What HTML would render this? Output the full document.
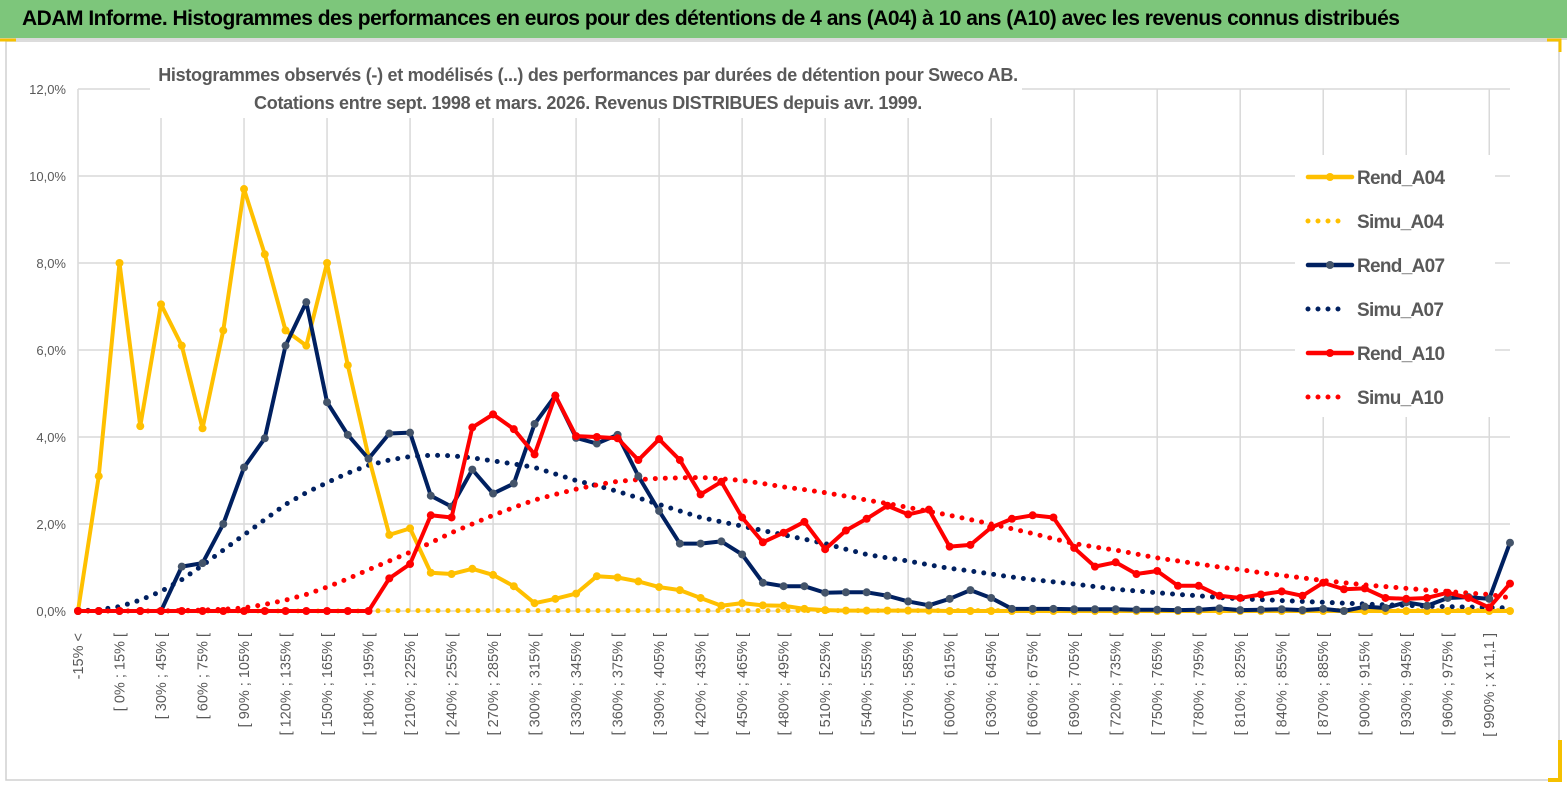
<!DOCTYPE html>
<html><head><meta charset="utf-8"><style>
html,body{margin:0;padding:0;background:#fff;}
body{width:1567px;height:789px;overflow:hidden;position:relative;font-family:"Liberation Sans",sans-serif;}
#titlebar{position:absolute;left:0;top:0;width:1567px;height:38px;background:#7dc67b;border-bottom:2px solid #d9d9d9;}
#titlebar span{position:absolute;left:22px;top:7px;font-size:21px;font-weight:bold;color:#000;white-space:nowrap;letter-spacing:-0.5px;}
svg{position:absolute;left:0;top:0;}
</style></head><body>
<div id="titlebar"><span>ADAM Informe. Histogrammes des performances en euros pour des détentions de 4 ans (A04) à 10 ans (A10) avec les revenus connus distribués</span></div>
<svg id="chart" width="1567" height="789"></svg>
<script>
const categoryCount = 70;
const yTicks = [0,2,4,6,8,10,12];
const rendA04 = [0,3.1,8.0,4.25,7.05,6.1,4.2,6.45,9.7,8.2,6.45,6.1,8.0,5.65,3.55,1.75,1.9,0.88,0.85,0.97,0.83,0.57,0.18,0.28,0.4,0.8,0.77,0.68,0.55,0.48,0.3,0.12,0.18,0.13,0.12,0.05,0.02,0.01,0.01,0.01,0.01,0.01,0,0,0,0,0,0,0,0,0,0,0,0,0,0,0,0,0,0,0,0,0,0,0,0,0,0,0,0];
const rendA07 = [0,0,0,0,0,1.02,1.1,2.0,3.3,3.97,6.1,7.1,4.8,4.05,3.5,4.08,4.1,2.65,2.4,3.25,2.7,2.93,4.3,4.95,3.98,3.85,4.05,3.1,2.3,1.55,1.55,1.6,1.3,0.65,0.57,0.57,0.42,0.43,0.43,0.35,0.22,0.13,0.28,0.48,0.3,0.05,0.05,0.05,0.04,0.04,0.04,0.03,0.03,0.02,0.03,0.06,0.02,0.03,0.04,0.02,0.05,0.0,0.1,0.07,0.2,0.12,0.3,0.32,0.28,1.57];
const rendA10 = [0,0,0,0,0,0,0,0,0,0,0,0,0,0,0,0.75,1.08,2.2,2.15,4.22,4.52,4.18,3.6,4.95,4.02,4.0,3.97,3.47,3.95,3.47,2.68,2.97,2.15,1.58,1.8,2.05,1.42,1.85,2.12,2.42,2.22,2.33,1.48,1.52,1.92,2.12,2.2,2.15,1.45,1.02,1.12,0.85,0.92,0.58,0.58,0.35,0.3,0.38,0.45,0.35,0.65,0.5,0.52,0.3,0.28,0.3,0.42,0.3,0.08,0.63];
const simuA04 = [0,0,0,0,0,0,0,0,0,0,0,0,0,0,0,0.01,0.01,0.01,0.01,0.01,0.01,0.01,0.01,0.01,0.01,0.01,0.01,0.01,0.01,0.01,0.01,0.01,0.01,0.01,0.01,0.01,0.01,0.01,0.01,0.01,0.01,0.01,0.01,0.01,0.01,0.01,0.01,0.01,0.01,0.01,0.01,0.01,0.01,0.01,0.01,0.01,0.01,0.01,0.01,0.01,0.01,0.01,0.01,0.01,0.01,0.01,0.01,0.01,0.01,0.01];
const simuA07 = [0,0.03,0.1,0.25,0.45,0.72,1.05,1.4,1.75,2.1,2.45,2.72,2.95,3.17,3.35,3.47,3.55,3.58,3.57,3.52,3.45,3.38,3.3,3.15,3.0,2.88,2.75,2.6,2.45,2.3,2.15,2.05,1.95,1.85,1.75,1.65,1.55,1.42,1.3,1.22,1.15,1.06,0.98,0.92,0.85,0.78,0.72,0.67,0.62,0.56,0.5,0.46,0.42,0.38,0.35,0.31,0.28,0.26,0.24,0.22,0.2,0.18,0.16,0.14,0.13,0.11,0.1,0.09,0.08,0.07];
const simuA10 = [0,0,0,0,0,0.01,0.02,0.04,0.07,0.15,0.25,0.38,0.55,0.74,0.95,1.15,1.35,1.57,1.8,2.0,2.2,2.38,2.55,2.68,2.8,2.9,2.98,3.02,3.05,3.06,3.07,3.04,3.0,2.93,2.85,2.79,2.72,2.64,2.55,2.47,2.38,2.29,2.2,2.1,2.0,1.89,1.78,1.66,1.55,1.47,1.4,1.31,1.22,1.15,1.08,1.01,0.95,0.88,0.82,0.76,0.7,0.65,0.6,0.56,0.52,0.48,0.45,0.41,0.38,0.3];
function catLabel(i){
  if(i===0) return "-15% <";
  if(i===68) return "[ 990% ; x 11,1 ]";
  const lo=(i-2)*15; return "[ "+lo+"% ; "+(lo+15)+"% [";
}
const NS="http://www.w3.org/2000/svg";
const svg=document.getElementById('chart');
const X0=78, X1=1510, Y0=611, Y12=89;
const xs=i=>X0+i*(X1-X0)/(categoryCount-1);
const ys=v=>Y0-v*(Y0-Y12)/12;
function el(t,a,p){const e=document.createElementNS(NS,t);for(const k in a)e.setAttribute(k,a[k]);(p||svg).appendChild(e);return e;}
const fr=el('rect',{x:6,y:41,width:1553,height:739,fill:'none',stroke:'#d0d0d0','stroke-width':1.5});


el('path',{d:'M0 40 H16 M1547 40 H1560 V52',stroke:'#f5c000','stroke-width':3,fill:'none'});
el('path',{d:'M1560 740 V780 H1548',stroke:'#f5c000','stroke-width':4,fill:'none'});
const grid=el('g',{});


yTicks.forEach(t=>{
  el('line',{x1:X0,x2:X1,y1:ys(t),y2:ys(t),stroke:'#d9d9d9','stroke-width':1.5},grid);
  const tx=el('text',{x:66,y:ys(t)+5,'text-anchor':'end','font-size':13,fill:'#595959'});
  tx.textContent=t.toFixed(1).replace('.',',')+'%';
  
  
});
for(let i=0;i<categoryCount;i+=4){el('line',{x1:xs(i),x2:xs(i),y1:Y12,y2:Y0,stroke:'#d9d9d9','stroke-width':1.5},grid);}
for(let i=0;i<categoryCount;i+=2){
  const tx=el('text',{transform:`translate(${xs(i)+5},633) rotate(-90)`,'text-anchor':'end','font-size':14.5,fill:'#595959'});
  tx.textContent=catLabel(i);
  
  
}
el('rect',{x:150,y:58,width:872,height:60,fill:'#fff'});
const st=el('text',{x:588,y:81,'text-anchor':'middle','font-size':18,'font-weight':'bold',fill:'#595959','letter-spacing':'-0.3'});
st.textContent='Histogrammes observés (-) et modélisés (...) des performances par durées de détention pour Sweco AB.';


const st2=el('text',{x:588,y:109,'text-anchor':'middle','font-size':18,'font-weight':'bold',fill:'#595959','letter-spacing':'-0.3'});
st2.textContent='Cotations entre sept. 1998 et mars. 2026. Revenus DISTRIBUES depuis avr. 1999.';


function pts(arr){return arr.map((v,i)=>xs(i)+','+ys(v)).join(' ');}
function dotted(arr,color,name){
  const p=el('polyline',{points:pts(arr),fill:'none',stroke:color,'stroke-width':5,'stroke-linecap':'round','stroke-dasharray':'0 10'});
  
  
}
function solid(arr,color,mk,name){
  const g=el('g',{});
  
  
  el('polyline',{points:pts(arr),fill:'none',stroke:color,'stroke-width':4,'stroke-linejoin':'round'},g);
  arr.forEach((v,i)=>{el('circle',{cx:xs(i),cy:ys(v),r:4,fill:mk},g);});
}
dotted(simuA04,'#ffc000','simu-a04-line');
dotted(simuA07,'#002060','simu-a07-line');
dotted(simuA10,'#ff0000','simu-a10-line');
solid(rendA04,'#ffc000','#ffc000','rend-a04-line');
solid(rendA07,'#002060','#44546a','rend-a07-line');
solid(rendA10,'#ff0000','#ff0000','rend-a10-line');
const lg=el('g',{});


el('rect',{x:1295,y:155,width:200,height:262,fill:'#fff'},lg);
const leg=[['Rend_A04','#ffc000','#ffc000',false],['Simu_A04','#ffc000','',true],['Rend_A07','#002060','#44546a',false],['Simu_A07','#002060','',true],['Rend_A10','#ff0000','#ff0000',false],['Simu_A10','#ff0000','',true]];
leg.forEach((l,k)=>{
  const y=177+k*44;
  const g=el('g',{},lg);
  
  
  if(l[3]) el('line',{x1:1308,x2:1348,y1:y,y2:y,stroke:l[1],'stroke-width':5,'stroke-linecap':'round','stroke-dasharray':'0 10'},g);
  else{el('line',{x1:1308,x2:1352,y1:y,y2:y,stroke:l[1],'stroke-width':4.5,'stroke-linecap':'round'},g);el('circle',{cx:1330,cy:y,r:4,fill:l[2]},g);}
  const t=el('text',{x:1357,y:y+7,'font-size':19,'font-weight':'bold',fill:'#595959','letter-spacing':'-0.7'},g);
  t.textContent=l[0];
});
</script>
</body></html>
